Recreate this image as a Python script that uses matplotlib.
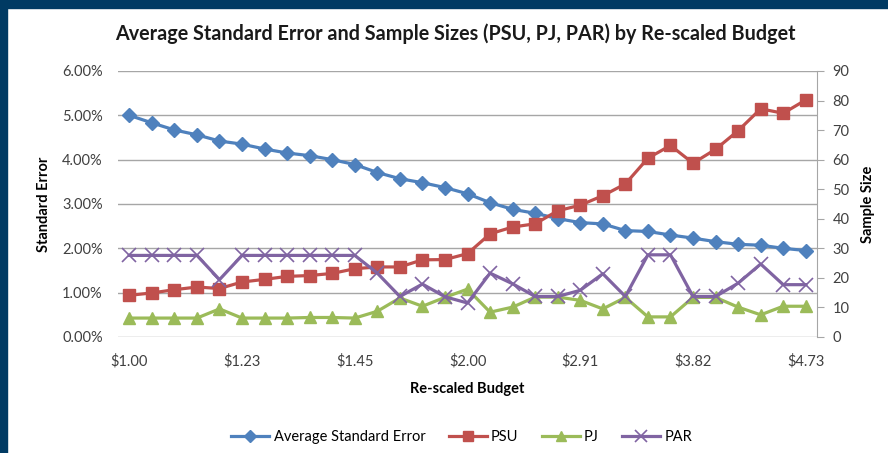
import matplotlib.pyplot as plt
from matplotlib.ticker import FuncFormatter, MultipleLocator
from matplotlib.patches import Rectangle

plt.rcParams['font.family'] = ['Lato', 'DejaVu Sans']

# budget categories, only every 5th one is labelled on the axis
budget_ticks = ["$1.00", "$1.23", "$1.45", "$2.00", "$2.91", "$3.82", "$4.73"]
n_points = 31

avg_se = [5.00, 4.83, 4.67, 4.56, 4.42, 4.35, 4.24, 4.15, 4.09, 4.00, 3.89,
          3.71, 3.57, 3.48, 3.37, 3.23, 3.03, 2.88, 2.79, 2.67, 2.58,
          2.55, 2.40, 2.38, 2.30, 2.23, 2.15, 2.09, 2.07, 2.00, 1.95]
psu = [14.1, 14.9, 16.0, 16.9, 16.4, 18.6, 19.5, 20.5, 20.8, 21.5, 23.1,
       23.7, 23.7, 26.1, 26.2, 28.2, 34.9, 37.2, 38.3, 42.7, 44.6,
       47.8, 51.8, 60.5, 64.8, 58.8, 63.5, 69.8, 77.2, 75.7, 80.2]
pj = [6.4, 6.4, 6.4, 6.4, 9.5, 6.4, 6.4, 6.4, 6.6, 6.6, 6.4,
      8.7, 13.2, 10.4, 13.4, 16.2, 8.4, 10.1, 13.5, 13.5, 12.4,
      9.5, 13.4, 6.8, 6.8, 13.4, 13.4, 10.1, 7.5, 10.4, 10.4]
par = [27.6, 27.6, 27.6, 27.6, 19.4, 27.6, 27.6, 27.6, 27.6, 27.6, 27.6,
       21.6, 13.7, 17.9, 13.6, 11.5, 21.6, 18.0, 13.7, 13.7, 15.8,
       21.4, 13.7, 27.8, 27.8, 13.7, 13.7, 18.2, 24.7, 17.7, 17.7]

x = list(range(n_points))
se_frac = [v / 100 for v in avg_se]

fig = plt.figure(figsize=(8.88, 4.53), dpi=100)
ax1 = fig.add_axes([0.1329, 0.2561, 0.7872, 0.5872])
ax2 = ax1.twinx()

# navy frame on top and left
fig.patches.append(Rectangle((0, 0.982), 1, 0.018, transform=fig.transFigure,
                             color='#003A63', zorder=0))
fig.patches.append(Rectangle((0, 0), 0.0079, 1, transform=fig.transFigure,
                             color='#003A63', zorder=0))

l1, = ax1.plot(x, se_frac, color='#4F81BD', lw=2.3, marker='D', ms=7.5,
               label='Average Standard Error')
l2, = ax2.plot(x, psu, color='#C0504D', lw=2.3, marker='s', ms=8.5, label='PSU')
l3, = ax2.plot(x, pj, color='#9BBB59', lw=2.3, marker='^', ms=9, label='PJ')
l4, = ax2.plot(x, par, color='#8064A2', lw=2.3, marker='x', ms=10, mew=1.2,
               label='PAR')

ax1.set_xlim(-0.5, n_points - 0.5)
ax1.set_ylim(0, 0.06)
ax2.set_ylim(0, 90)
ax1.yaxis.set_major_locator(MultipleLocator(0.01))
ax1.yaxis.set_major_formatter(FuncFormatter(lambda v, p: f"{v * 100:.2f}%"))
ax2.yaxis.set_major_locator(MultipleLocator(10))
ax1.set_xticks(x[::5])
ax1.set_xticklabels(budget_ticks)

ax1.grid(axis='y', color='#A6A6A6', lw=1)
ax1.set_axisbelow(True)
for ax in (ax1, ax2):
    for s in ['top', 'left', 'bottom', 'right']:
        ax.spines[s].set_visible(False)
ax2.spines['right'].set_visible(True)
ax2.spines['right'].set_color('#A6A6A6')
ax1.tick_params(axis='both', length=0, labelsize=10.5, colors='#404040', pad=11)
ax1.tick_params(axis='x', pad=12)
ax2.tick_params(axis='y', length=5, color='#A6A6A6', labelsize=10.5,
                labelcolor='#404040', pad=6)

ax1.set_ylabel("Standard Error", fontsize=10.5, fontweight='bold', labelpad=8)
ax2.set_ylabel("Sample Size", fontsize=10.5, fontweight='bold', labelpad=8)
ax1.set_xlabel("Re-scaled Budget", fontsize=10.5, fontweight='bold', labelpad=10)

fig.suptitle("Average Standard Error and Sample Sizes (PSU, PJ, PAR) by Re-scaled Budget",
             x=0.513, y=0.948, fontsize=14.2, fontweight='bold', color='#1a1a1a')

fig.legend(handles=[l1, l2, l3, l4], loc='center', bbox_to_anchor=(0.52, 0.035),
           ncol=4, frameon=False, fontsize=10.5, handlelength=2.6,
           columnspacing=1.6, handletextpad=0.3, markerscale=0.8)

fig.savefig("out.png", dpi=100)
